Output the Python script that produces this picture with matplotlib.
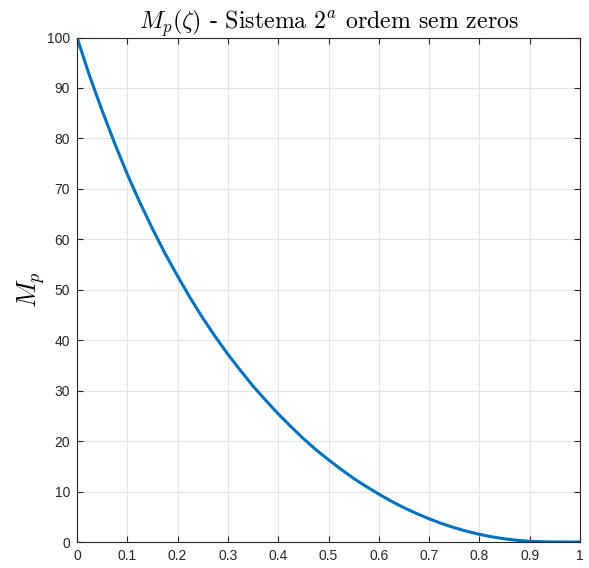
import matplotlib
matplotlib.use("Agg")
import matplotlib.pyplot as plt

plt.rcParams['mathtext.fontset'] = 'cm'

zeta = [0.0, 0.025, 0.05, 0.075, 0.1, 0.125, 0.15, 0.175, 0.2, 0.225, 0.25,
        0.275, 0.3, 0.325, 0.35, 0.375, 0.4, 0.425, 0.45, 0.475, 0.5,
        0.525, 0.55, 0.575, 0.6, 0.625, 0.65, 0.675, 0.7, 0.725, 0.75,
        0.775, 0.8, 0.825, 0.85, 0.875, 0.9, 0.925, 0.95, 0.975, 1.0]
mp = [100.0, 92.4, 85.5, 79.0, 72.9, 67.3, 62.1, 57.2, 52.7, 48.4, 44.4,
      40.7, 37.2, 34.0, 30.9, 28.1, 25.4, 22.9, 20.5, 18.3, 16.3,
      14.4, 12.6, 11.0, 9.5, 8.08, 6.8, 5.65, 4.6, 3.66, 2.84,
      2.12, 1.52, 1.02, 0.63, 0.34, 0.15, 0.05, 0.005, 0.0, 0.0]
xticks = [0, 0.1, 0.2, 0.3, 0.4, 0.5, 0.6, 0.7, 0.8, 0.9, 1]
xticklabels = ['0', '0.1', '0.2', '0.3', '0.4', '0.5', '0.6', '0.7', '0.8', '0.9', '1']
yticks = [0, 10, 20, 30, 40, 50, 60, 70, 80, 90, 100]

fig = plt.figure(figsize=(5.89, 5.68), dpi=100)
ax = fig.add_axes([77/589, 1 - 542/568, (580 - 77)/589, (542 - 37.5)/568])
ax.plot(zeta, mp, color='#0072BD', linewidth=2.2, solid_capstyle='butt')
ax.set_xlim(0, 1)
ax.set_ylim(0, 100)
ax.set_xticks(xticks)
ax.set_xticklabels(xticklabels, fontfamily='Liberation Sans', fontsize=10, color='#262626')
ax.set_yticks(yticks)
ax.set_yticklabels([str(v) for v in yticks], fontfamily='Liberation Sans', fontsize=10, color='#262626')
ax.tick_params(direction='in', top=True, right=True, length=4, width=0.8, color='#262626', pad=5)
ax.grid(True, color='#e3e3e3', linewidth=0.8)
ax.set_axisbelow(True)
for s in ax.spines.values():
    s.set_color('#262626')
    s.set_linewidth(0.8)
ax.set_title(r'$M_p(\zeta)$ - Sistema $2^a$ ordem sem zeros', fontfamily='cmr10',
             fontsize=17.2, pad=6, color='black')
ax.set_ylabel(r'$M_p$', fontsize=19, labelpad=0)
fig.savefig('out.png', dpi=100, facecolor='white')
